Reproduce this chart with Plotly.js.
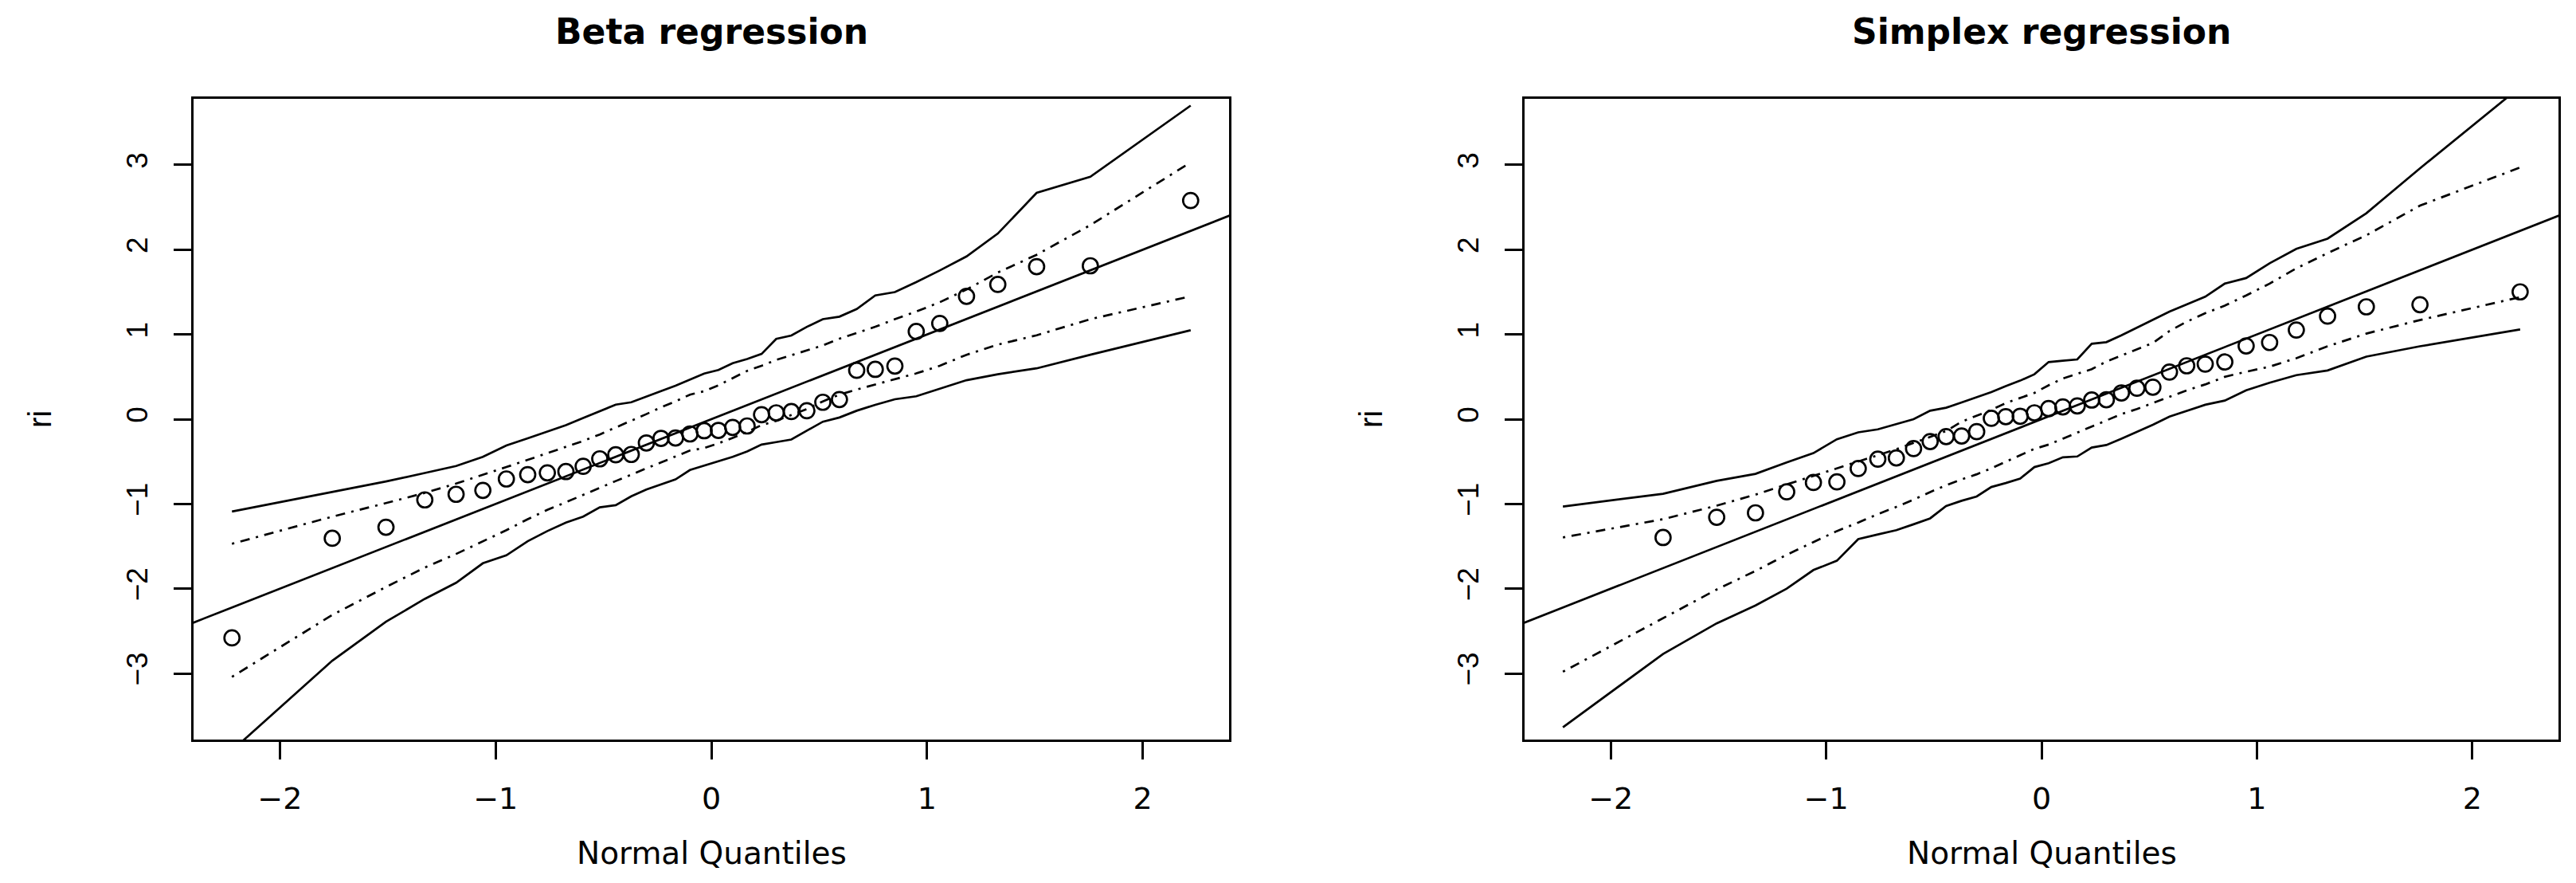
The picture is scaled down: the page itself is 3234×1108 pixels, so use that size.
<!DOCTYPE html>
<html>
<head>
<meta charset="utf-8">
<script src="https://cdn.plot.ly/plotly-3.0.1.min.js"></script>
<style>
  html, body { margin: 0; padding: 0; background: #ffffff; }
  #chart { width: 3234px; height: 1108px; }
</style>
</head>
<body>
<div id="chart"></div>
<script>
// Normal quantiles (n = 38)
const normalQuantiles = [-2.222, -1.757, -1.508, -1.328, -1.183, -1.059, -0.950, -0.851, -0.760, -0.674,
  -0.594, -0.517, -0.443, -0.371, -0.301, -0.233, -0.166, -0.099, -0.033, 0.033,
  0.099, 0.166, 0.233, 0.301, 0.371, 0.443, 0.517, 0.594, 0.674, 0.760,
  0.851, 0.950, 1.059, 1.183, 1.328, 1.508, 1.757, 2.222];

// Beta regression
const betaResiduals = [-2.58, -1.405, -1.275, -0.952, -0.886, -0.84, -0.705, -0.654, -0.633, -0.618,
  -0.556, -0.468, -0.42, -0.416, -0.28, -0.226, -0.222, -0.174, -0.136, -0.132,
  -0.097, -0.08, 0.053, 0.075, 0.09, 0.10, 0.20, 0.232, 0.577, 0.588,
  0.627, 1.035, 1.13, 1.45, 1.59, 1.80, 1.81, 2.58];
const betaUpper = [-1.09, -0.86, -0.735, -0.635, -0.553, -0.445, -0.31, -0.226, -0.148, -0.071,
  0.014, 0.096, 0.172, 0.20, 0.27, 0.332, 0.394, 0.466, 0.538, 0.58,
  0.66, 0.71, 0.77, 0.947, 0.987, 1.09, 1.18, 1.21, 1.30, 1.46,
  1.50, 1.617, 1.755, 1.92, 2.19, 2.67, 2.86, 3.70];
const betaLower = [-3.91, -2.85, -2.39, -2.12, -1.93, -1.70, -1.607, -1.44, -1.32, -1.22,
  -1.15, -1.04, -1.015, -0.91, -0.83, -0.77, -0.71, -0.60, -0.55, -0.50,
  -0.445, -0.38, -0.30, -0.27, -0.24, -0.135, -0.03, 0.02, 0.10, 0.17,
  0.235, 0.27, 0.36, 0.46, 0.53, 0.60, 0.76, 1.05];
const betaMidUpper = [-1.47, -1.15, -0.99, -0.87, -0.76, -0.66, -0.565, -0.48, -0.40, -0.325,
  -0.257, -0.18, -0.10, -0.02, 0.06, 0.14, 0.21, 0.29, 0.33, 0.40,
  0.485, 0.57, 0.63, 0.70, 0.755, 0.81, 0.87, 0.95, 1.02, 1.09,
  1.18, 1.27, 1.38, 1.53, 1.73, 1.94, 2.29, 3.03];
const betaMidLower = [-3.04, -2.31, -1.98, -1.75, -1.59, -1.44, -1.31, -1.18, -1.07, -0.98,
  -0.89, -0.81, -0.73, -0.65, -0.58, -0.51, -0.44, -0.37, -0.34, -0.285,
  -0.22, -0.15, -0.07, -0.02, 0.05, 0.12, 0.21, 0.29, 0.35, 0.41,
  0.47, 0.54, 0.63, 0.76, 0.88, 0.99, 1.18, 1.45];

// Simplex regression (first residual lies below the plotted range)
const simplexResiduals = [null, -1.396, -1.157, -1.105, -0.857, -0.747, -0.74, -0.582, -0.472, -0.457,
  -0.347, -0.264, -0.205, -0.198, -0.147, 0.01, 0.03, 0.035, 0.075, 0.125,
  0.145, 0.157, 0.226, 0.23, 0.31, 0.365, 0.378, 0.556, 0.63, 0.65,
  0.675, 0.864, 0.905, 1.052, 1.216, 1.326, 1.351, 1.502];
const simplexUpper = [-1.03, -0.88, -0.727, -0.645, -0.51, -0.40, -0.237, -0.155, -0.12, -0.06,
  0.0, 0.10, 0.135, 0.197, 0.26, 0.32, 0.39, 0.455, 0.53, 0.674,
  0.69, 0.705, 0.89, 0.909, 0.99, 1.08, 1.17, 1.27, 1.355, 1.445,
  1.60, 1.665, 1.84, 2.01, 2.13, 2.43, 2.96, 3.92];
const simplexLower = [-3.635, -2.77, -2.409, -2.198, -2.0, -1.78, -1.67, -1.415, -1.36, -1.31,
  -1.24, -1.17, -1.025, -0.963, -0.912, -0.80, -0.753, -0.70, -0.565, -0.52,
  -0.45, -0.44, -0.335, -0.305, -0.23, -0.15, -0.066, 0.03, 0.10, 0.17,
  0.22, 0.34, 0.43, 0.52, 0.575, 0.738, 0.86, 1.059];
const simplexMidUpper = [-1.395, -1.18, -1.02, -0.89, -0.77, -0.67, -0.585, -0.50, -0.43, -0.355,
  -0.28, -0.21, -0.14, -0.03, 0.04, 0.11, 0.19, 0.25, 0.31, 0.40,
  0.48, 0.535, 0.59, 0.68, 0.75, 0.82, 0.90, 1.04, 1.15, 1.25,
  1.34, 1.46, 1.60, 1.78, 1.96, 2.17, 2.52, 2.97];
const simplexMidLower = [-2.98, -2.35, -2.01, -1.79, -1.60, -1.45, -1.32, -1.22, -1.12, -1.035,
  -0.95, -0.86, -0.78, -0.71, -0.65, -0.58, -0.50, -0.425, -0.35, -0.30,
  -0.23, -0.16, -0.09, -0.02, 0.06, 0.12, 0.19, 0.26, 0.34, 0.41,
  0.50, 0.56, 0.62, 0.72, 0.86, 1.01, 1.17, 1.44];

// Identity reference line (y = x), clipped by the axes
const identityLine = [-3, 3];

const xTicks = [-2, -1, 0, 1, 2];
const yTicks = [-3, -2, -1, 0, 1, 2, 3];
const panelTitles = ['Beta regression', 'Simplex regression'];
const xTitle = 'Normal Quantiles';
const yTitle = 'ri';

const panels = [
  {res: betaResiduals, up: betaUpper, lo: betaLower, mu: betaMidUpper, ml: betaMidLower, xa: 'x', ya: 'y'},
  {res: simplexResiduals, up: simplexUpper, lo: simplexLower, mu: simplexMidUpper, ml: simplexMidLower, xa: 'x2', ya: 'y2'}
];

const solid = {color: '#000000', width: 2.7};
const dashdot = {color: '#000000', width: 2.7, dash: '3px,8px,12px,8px'};

const traces = [];
panels.forEach(p => {
  traces.push({x: normalQuantiles, y: p.lo, mode: 'lines', line: solid, xaxis: p.xa, yaxis: p.ya, hoverinfo: 'skip'});
  traces.push({x: normalQuantiles, y: p.up, mode: 'lines', line: solid, xaxis: p.xa, yaxis: p.ya, hoverinfo: 'skip'});
  traces.push({x: normalQuantiles, y: p.ml, mode: 'lines', line: dashdot, xaxis: p.xa, yaxis: p.ya, hoverinfo: 'skip'});
  traces.push({x: normalQuantiles, y: p.mu, mode: 'lines', line: dashdot, xaxis: p.xa, yaxis: p.ya, hoverinfo: 'skip'});
  traces.push({x: identityLine, y: identityLine, mode: 'lines', line: solid, xaxis: p.xa, yaxis: p.ya, hoverinfo: 'skip'});
  traces.push({x: normalQuantiles, y: p.res, mode: 'markers', xaxis: p.xa, yaxis: p.ya,
    marker: {symbol: 'circle-open', size: 19, color: '#000000', line: {width: 2.7, color: '#000000'}},
    cliponaxis: true});
});

const W = 3234, H = 1108;
const box = {top: 124, bottom: 928, l1: 243, r1: 1543, l2: 1914, r2: 3212};

function xAxis(domain, anchor) {
  return {
    domain: domain, anchor: anchor, range: [-2.40, 2.40],
    tickmode: 'array', tickvals: xTicks,
    ticks: 'outside', ticklen: 22, tickwidth: 3, tickcolor: '#000',
    showline: true, linewidth: 3, linecolor: '#000', mirror: true,
    showgrid: false, zeroline: false,
    tickfont: {family: 'DejaVu Sans', size: 38, color: '#000'},
    ticklabelstandoff: 16,
    fixedrange: true
  };
}
function yAxis(anchor) {
  return {
    domain: [1 - box.bottom / H, 1 - box.top / H], anchor: anchor, range: [-3.78, 3.78],
    tickmode: 'array', tickvals: yTicks,
    ticks: 'outside', ticklen: 22, tickwidth: 3, tickcolor: '#000',
    showline: true, linewidth: 3, linecolor: '#000', mirror: true,
    showgrid: false, zeroline: false, tickangle: -90,
    tickfont: {family: 'Liberation Sans', size: 37, color: '#000'},
    ticklabelstandoff: 18,
    fixedrange: true
  };
}

const c1 = (box.l1 + box.r1) / 2 / W, c2 = (box.l2 + box.r2) / 2 / W;
const annotations = [];
[c1, c2].forEach((c, i) => {
  annotations.push({text: '<b>' + panelTitles[i] + '</b>', xref: 'paper', yref: 'paper', x: c, y: 1 - 40 / H,
    xanchor: 'center', yanchor: 'middle', showarrow: false,
    font: {family: 'DejaVu Sans', size: 44, color: '#000'}});
  annotations.push({text: xTitle, xref: 'paper', yref: 'paper', x: c, y: 1 - 1070 / H,
    xanchor: 'center', yanchor: 'middle', showarrow: false,
    font: {family: 'DejaVu Sans', size: 39, color: '#000'}});
});
[50, 1721].forEach(px => {
  annotations.push({text: yTitle, xref: 'paper', yref: 'paper', x: px / W, y: 1 - 526 / H,
    xanchor: 'center', yanchor: 'middle', showarrow: false, textangle: -90,
    font: {family: 'Liberation Sans', size: 40, color: '#000'}});
});

const layout = {
  width: W, height: H,
  margin: {l: 0, r: 0, t: 0, b: 0},
  paper_bgcolor: '#ffffff', plot_bgcolor: '#ffffff',
  showlegend: false,
  xaxis: xAxis([box.l1 / W, box.r1 / W], 'y'),
  yaxis: yAxis('x'),
  xaxis2: xAxis([box.l2 / W, box.r2 / W], 'y2'),
  yaxis2: yAxis('x2'),
  annotations: annotations
};

Plotly.newPlot('chart', traces, layout, {staticPlot: true, displayModeBar: false});
</script>
</body>
</html>
